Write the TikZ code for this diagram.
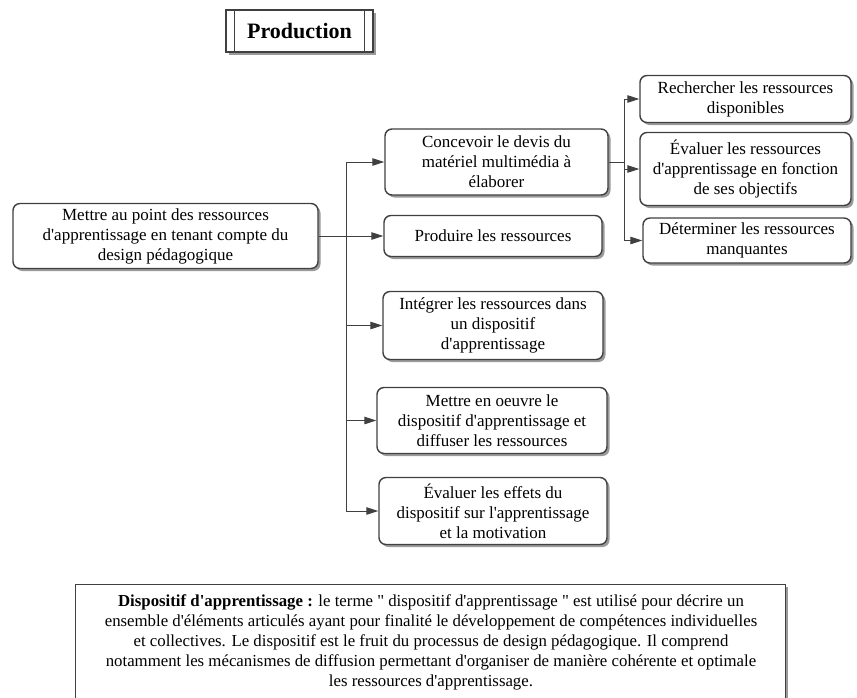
\documentclass[tikz,border=0pt]{standalone}
\usepackage{fontspec}
\setmainfont{Liberation Serif}[Ligatures=TeXOff]
\usetikzlibrary{arrows.meta,shadows,calc}
\definecolor{edge}{HTML}{404040}
\definecolor{shade}{HTML}{9A9A9A}

\begin{document}
\begin{tikzpicture}[x=1pt,y=-1pt,
  card/.style={draw=edge, line width=1.4pt, rounded corners=7pt, fill=white,
    align=center, inner sep=0pt, font=\fontsize{17}{20}\selectfont,
    drop shadow={shadow xshift=2.5pt, shadow yshift=-2.5pt, fill=shade, opacity=1}},
  plain/.style={draw=edge, line width=1.4pt, fill=white, inner sep=0pt,
    drop shadow={shadow xshift=2.5pt, shadow yshift=-2.5pt, fill=shade, opacity=1}},
  link/.style={draw=edge, line width=0.9pt},
  arr/.style={link, -{Triangle[length=12pt,width=7.5pt]}},
]
\useasboundingbox (0,0) rectangle (857,697);

% title box with double side bars
\node[plain, minimum width=147pt, minimum height=42pt,
      font=\fontsize{22}{26}\bfseries] (title) at (299.5,31) {Production};
\draw[edge, line width=1.4pt] ($(title.north west)+(9,0)$) -- ($(title.south west)+(9,0)$);
\draw[edge, line width=1.4pt] ($(title.north east)+(-9,0)$) -- ($(title.south east)+(-9,0)$);

% root task
\node[card, minimum width=305pt, minimum height=65pt] (main) at (165.5,236)
  {Mettre au point des ressources\\d'apprentissage en tenant compte du\\design pédagogique};

% second level
\node[card, minimum width=223pt, minimum height=66pt] (c1) at (496.5,162)
  {Concevoir le devis du\\matériel multimédia à\\élaborer};
\node[card, minimum width=218pt, minimum height=41pt] (c2) at (493,236)
  {Produire les ressources};
\node[card, minimum width=220pt, minimum height=68pt] (c3) at (493,325.5)
  {Intégrer les ressources dans\\un dispositif\\d'apprentissage};
\node[card, minimum width=230pt, minimum height=66pt] (c4) at (492,420.5)
  {Mettre en oeuvre le\\dispositif d'apprentissage et\\diffuser les ressources};
\node[card, minimum width=228pt, minimum height=67pt] (c5) at (493,511)
  {Évaluer les effets du\\dispositif sur l'apprentissage\\et la motivation};

% third level
\node[card, minimum width=211pt, minimum height=47pt] (r1) at (745.5,99)
  {Rechercher les ressources\\disponibles};
\node[card, minimum width=211pt, minimum height=73pt] (r2) at (745.5,169)
  {Évaluer les ressources\\d'apprentissage en fonction\\de ses objectifs};
\node[card, minimum width=208pt, minimum height=45pt] (r3) at (747,240.5)
  {Déterminer les ressources\\manquantes};

% connectors
\coordinate (tk) at (346,0);
\coordinate (sk) at (624,0);
\draw[link] (main.east) -- (tk |- main.east);
\draw[link] (tk |- c1.west) -- (tk |- c5.west);
\foreach \n in {c1,c2,c3,c4,c5}
  \draw[arr] (tk |- \n.west) -- (\n.west);
\draw[link] (c1.east) -- (sk |- c1.east);
\draw[link] (sk |- r1.west) -- (sk |- r3.west);
\foreach \n in {r1,r2,r3}
  \draw[arr] (sk |- \n.west) -- (\n.west);

% definition note
\node[plain, minimum width=710pt, minimum height=118pt, anchor=north west] (note) at (75,584) {};
\node[align=center, inner sep=0pt, font=\fontsize{16.8}{20}\selectfont] (notetext) at (431,642)
  {\textbf{Dispositif d'apprentissage :} le terme " dispositif d'apprentissage " est utilisé pour décrire un\\
   ensemble d'éléments articulés ayant pour finalité le développement de compétences individuelles\\
   et collectives. Le dispositif est le fruit du processus de design pédagogique. Il comprend\\
   notamment les mécanismes de diffusion permettant d'organiser de manière cohérente et optimale\\
   les ressources d'apprentissage.};
\end{tikzpicture}
\end{document}
